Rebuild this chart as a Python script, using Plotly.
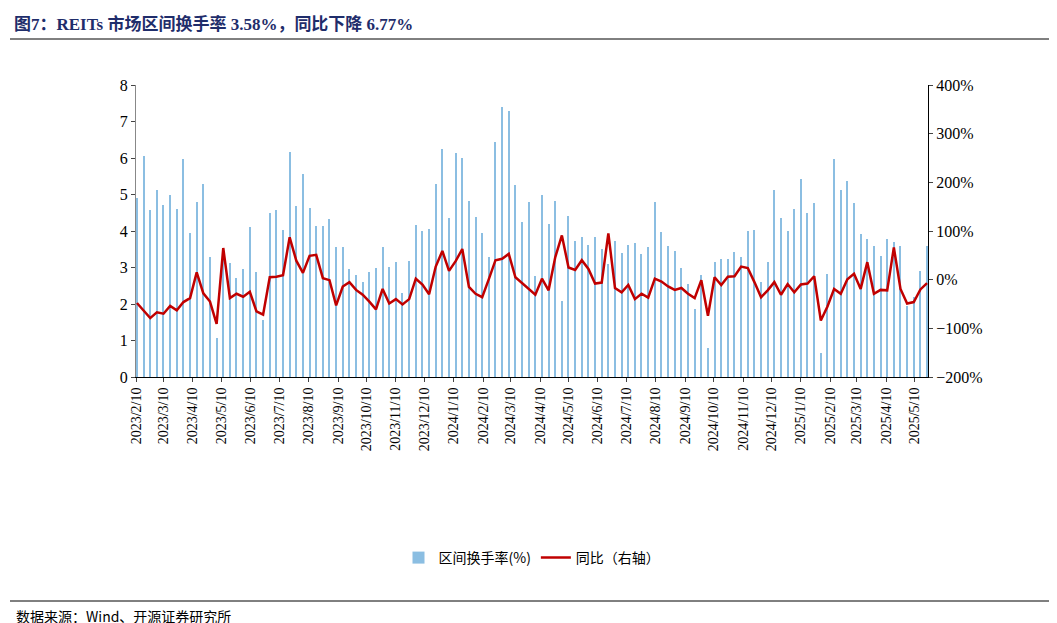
import plotly.graph_objects as go
import pandas as pd

turnover = [4.9, 6.05, 4.58, 5.13, 4.71, 5.0, 4.61, 5.96, 3.95, 4.79, 5.3, 3.28, 1.07, 3.49, 3.12, 2.7, 2.96, 4.11, 2.87, 1.57,
            4.48, 4.57, 4.02, 6.16, 4.68, 5.55, 4.63, 4.13, 4.14, 4.32, 3.57, 3.55, 2.95, 2.8, 2.6, 2.88, 2.98, 3.55, 3.01, 3.16,
            2.29, 3.18, 4.17, 3.99, 4.05, 5.3, 6.24, 4.35, 6.13, 6.0, 4.83, 4.38, 3.95, 3.3, 6.44, 7.39, 7.28, 5.26, 4.25, 4.79,
            2.76, 5.0, 4.2, 4.83, 2.07, 4.42, 3.73, 3.84, 3.63, 3.83, 3.5, 3.1, 3.73, 3.4, 3.63, 3.66, 3.37, 3.57, 4.79, 3.97,
            3.58, 3.46, 3.0, 2.55, 1.86, 2.79, 0.79, 3.15, 3.22, 3.22, 3.42, 3.3, 4.0, 4.02, 2.6, 3.14, 5.11, 4.36, 4.0, 4.59,
            5.42, 4.49, 4.76, 0.65, 2.81, 5.98, 5.13, 5.38, 4.76, 3.92, 3.78, 3.6, 3.31, 3.77, 3.7, 3.6, 1.95, 2.2, 2.9, 3.58]
yoy = [-48, -64, -79, -67, -70, -54, -63, -46, -38, 15, -28, -45, -91, 65, -38, -29, -35, -25, -65, -72,
       5, 6, 9, 87, 39, 14, 49, 51, 3, -1, -53, -14, -5, -21, -31, -45, -61, -19, -49, -40,
       -51, -40, 2, -10, -30, 27, 59, 18, 38, 63, -15, -29, -36, 1, 40, 43, 53, 5, -7, -18,
       -31, 2, -22, 46, 91, 25, 20, 40, 22, -8, -6, 95, -17, -26, -11, -40, -29, -37, 2, -4,
       -14, -21, -17, -29, -38, -1, -74, 5, -11, 6, 7, 27, 24, -5, -36, -22, -5, -31, -9, -26,
       -10, -8, 7, -84, -55, -19, -29, 1, 12, -19, 36, -29, -21, -22, 66, -19, -49, -46, -20, -7]
dates = pd.date_range("2023-02-10", periods=len(turnover), freq="7D")
tick_dates = pd.date_range("2023-02-01", "2025-05-10", freq="MS") + pd.Timedelta(days=9)
tick_text = [f"{d.year}/{d.month}/{d.day}" for d in tick_dates]

font = "Liberation Serif, Noto Sans CJK SC"
week_ms = 7 * 24 * 3600 * 1000

fig = go.Figure()
fig.add_trace(go.Bar(x=dates, y=turnover, name="区间换手率(%)", marker=dict(color="#0070C0", line_width=0),
                     width=week_ms * 0.17, opacity=0.45))
fig.add_trace(go.Scatter(x=dates, y=yoy, name="同比（右轴）", yaxis="y2", mode="lines",
                         line=dict(color="#C00000", width=2.5)))

fig.update_layout(
    width=1057, height=623, plot_bgcolor="white", paper_bgcolor="white",
    margin=dict(l=128, r=137, t=77, b=254, autoexpand=False),
    font=dict(family=font, size=14, color="black"),
    showlegend=True,
    legend=dict(orientation="h", x=0.5, xanchor="center", y=-(550-369)/292, yanchor="middle",
                font=dict(size=14, family="Noto Sans CJK SC")),
    xaxis=dict(type="date", range=[dates[0] - pd.Timedelta(days=1), dates[-1] + pd.Timedelta(days=1)],
               tickvals=tick_dates, ticktext=tick_text, tickangle=-90, showgrid=False, automargin=False,
               showline=True, linecolor="black", ticks="outside", ticklen=4, tickfont=dict(size=14)),
    yaxis=dict(range=[0, 8], dtick=1, showgrid=False, showline=True, linecolor="#888", automargin=False,
               ticks="outside", ticklen=4, tickfont=dict(size=16), zeroline=False),
    yaxis2=dict(range=[-200, 400], dtick=100, overlaying="y", side="right", ticksuffix="%", automargin=False,
                showgrid=False, showline=True, linecolor="black", ticks="outside", ticklen=4,
                tickfont=dict(size=16), zeroline=False),
    bargap=0,
)
fig.add_annotation(text="<b>图7：REITs 市场区间换手率 3.58%，同比下降 6.77%</b>", xref="paper", yref="paper",
                   x=-124/792, y=1 + (77-16)/292, xanchor="left", yanchor="middle", showarrow=False,
                   font=dict(size=17, color="#1F2D6B", family=font))
fig.add_annotation(text="数据来源：Wind、开源证券研究所", xref="paper", yref="paper",
                   x=-122/792, y=-(608-369)/292, xanchor="left", yanchor="middle", showarrow=False,
                   font=dict(size=14, family="Noto Sans CJK SC"))
fig.add_shape(type="line", xref="paper", yref="paper", x0=-126/792, x1=(1050-128)/792,
              y0=1 + (77-31)/292, y1=1 + (77-31)/292, line=dict(color="black", width=1))
fig.add_shape(type="line", xref="paper", yref="paper", x0=-126/792, x1=(1050-128)/792,
              y0=-(593-369)/292, y1=-(593-369)/292, line=dict(color="black", width=1))
fig.write_html("out.html")
